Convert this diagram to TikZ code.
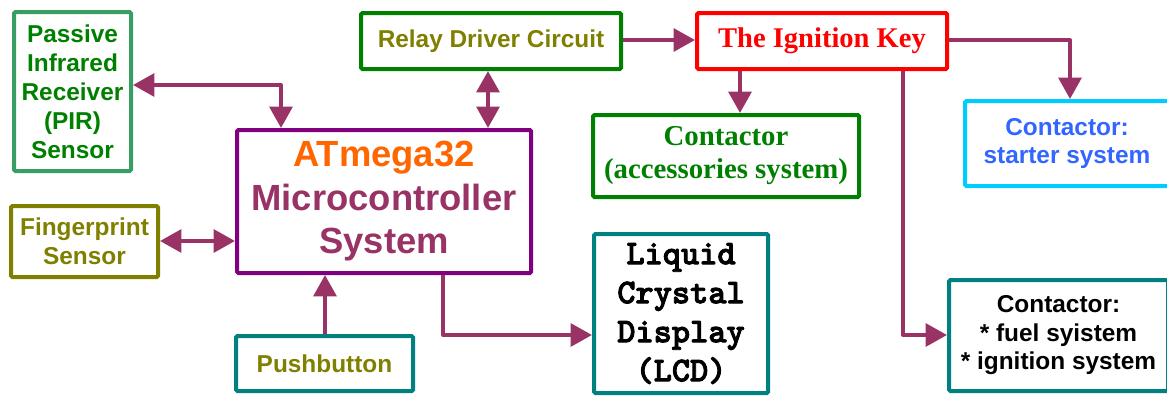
\documentclass[tikz,border=0pt]{standalone}
\usepackage{fontspec}
\usetikzlibrary{arrows.meta,calc}
\newfontfamily\sansB{Liberation Sans}[BoldFont=* Bold]
\newfontfamily\serifB{Liberation Serif}[BoldFont=* Bold]
\newfontfamily\monoC{lmmonolt10-bold}[Extension=.otf, FakeBold=2.5]
\definecolor{arr}{RGB}{153,51,102}
\definecolor{pirb}{RGB}{56,158,100}
\definecolor{grn}{RGB}{0,128,0}
\definecolor{olv}{RGB}{128,128,0}
\definecolor{prp}{RGB}{128,0,128}
\definecolor{orng}{RGB}{255,102,0}
\definecolor{plum}{RGB}{153,51,102}
\definecolor{cyanb}{RGB}{0,204,255}
\definecolor{bluet}{RGB}{51,102,255}
\definecolor{tealb}{RGB}{0,128,128}
\definecolor{redk}{RGB}{255,0,0}
\tikzset{
  blk/.style={draw, line width=3pt, rounded corners=1pt, align=center, inner sep=0pt, fill=white},
  sans18/.style={font=\sansB\bfseries\fontsize{18.3}{21.75}\selectfont},
  conn/.style={draw=arr, line width=3pt, line join=round},
  tip/.style={-{Triangle[length=16pt,width=17pt]}},
  tips/.style={{Triangle[length=16pt,width=17pt]}-{Triangle[length=16pt,width=17pt]}},
}
\begin{document}
\begin{tikzpicture}[x=0.75pt,y=-0.75pt]
\useasboundingbox (0,0) rectangle (1167,396);
% boxes
\node[blk, sans18, draw=pirb, text=grn, minimum width=87.75pt, minimum height=119.25pt] (pir) at (72.5,91.5)
  {Passive\\Infrared\\Receiver\\(PIR)\\Sensor};
\node[blk, sans18, draw=olv, text=olv, minimum width=110.25pt, minimum height=53.25pt] (fp) at (84.5,241.5)
  {Fingerprint\\Sensor};
\node[blk, draw=prp, text=plum, font=\sansB\bfseries\fontsize{27.3}{32.6}\selectfont, minimum width=220.5pt, minimum height=107.25pt] (mcu) at (384,201.5)
  {\textcolor{orng}{ATmega32}\\Microcontroller\\System};
\node[blk, sans18, draw=grn, text=olv, minimum width=195pt, minimum height=42pt] (relay) at (491,41)
  {Relay Driver Circuit};
\node[blk, draw=redk, text=redk, font=\serifB\bfseries\fontsize{21.4}{25}\selectfont, minimum width=187.5pt, minimum height=42pt] (key) at (822,41)
  {The Ignition Key};
\node[blk, draw=grn, text=grn, font=\serifB\bfseries\fontsize{21.6}{24.75}\selectfont, minimum width=199.5pt, minimum height=61.5pt] (acc) at (726,156)
  {Contactor\\(accessories system)};
\node[blk, draw=cyanb, text=bluet, font=\sansB\bfseries\fontsize{18.3}{21.4}\selectfont, minimum width=153pt, minimum height=63.75pt] (start) at (1067,143.5)
  {Contactor:\\starter system};
\node[blk, draw=tealb, text=black, font=\monoC\fontsize{26}{29.25}\selectfont, minimum width=130.5pt, minimum height=119.25pt] (lcd) at (681,313.5)
  {Liquid\\Crystal\\Display\\(LCD)};
\node[blk, draw=tealb, text=black, font=\sansB\bfseries\fontsize{18.3}{21.4}\selectfont, minimum width=164.25pt, minimum height=83.25pt] (fuel) at (1058.5,335.5)
  {Contactor:\\* fuel syistem\\* ignition system};
\node[blk, sans18, draw=tealb, text=olv, minimum width=132.75pt, minimum height=41.25pt] (push) at (324.5,363.5)
  {Pushbutton};
% helper coordinates
\coordinate (c1) at (281,85);
\coordinate (c2) at (443,335);
\coordinate (c3) at (1070,40);
\coordinate (c4) at (903,335);
% connectors
\draw[conn, tips] (pir.east |- c1) -| (c1 |- mcu.north);
\draw[conn, tips] (fp.east |- 0,241) -- (mcu.west |- 0,241);
\draw[conn, tip] (push.north -| 325,0) -- (mcu.south -| 325,0);
\draw[conn, tips] (relay.south -| 488,0) -- (mcu.north -| 488,0);
\draw[conn, tip] (relay.east |- 0,40) -- (key.west |- 0,40);
\draw[conn, tip] (key.south -| 740,0) -- (acc.north -| 740,0);
\draw[conn, tip] (key.east |- c3) -| (c3 |- start.north);
\draw[conn, tip] (key.south -| c4) |- (fuel.west |- c4);
\draw[conn, tip] (mcu.south -| c2) |- (lcd.west |- c2);
\end{tikzpicture}
\end{document}
